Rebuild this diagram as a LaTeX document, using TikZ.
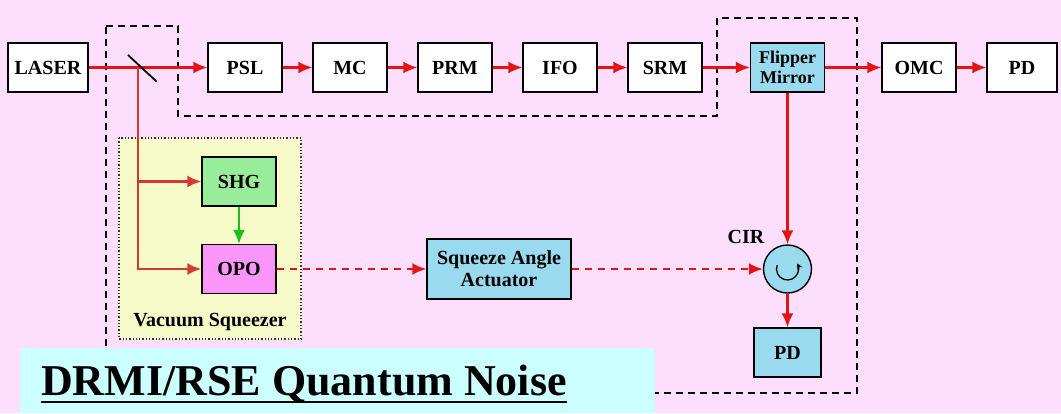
\documentclass[tikz,border=0pt]{standalone}
\usepackage{fontspec}
\setmainfont{Liberation Serif}
\usetikzlibrary{shapes.geometric,arrows.meta,positioning,calc}
\definecolor{bgpink}{RGB}{253,222,253}
\definecolor{boxblue}{RGB}{153,218,238}
\definecolor{shggreen}{RGB}{153,236,153}
\definecolor{opopink}{RGB}{250,150,250}
\definecolor{sqyellow}{RGB}{245,250,200}
\definecolor{titlecyan}{RGB}{204,255,255}
\definecolor{beamred}{RGB}{228,20,20}
\definecolor{branchred}{RGB}{210,60,45}
\definecolor{pumpgreen}{RGB}{30,190,30}

\begin{document}
\begin{tikzpicture}[x=1pt, y=-1pt, node distance=29.6pt, every node/.style={font=\fontsize{20}{22}\selectfont\bfseries}, align=center]
  \tikzset{block/.style={rectangle, draw=black, line width=1.4pt, minimum width=74pt, minimum height=49pt, inner sep=2pt, fill=white}, arr/.style={-{Latex[length=14pt,width=12pt]}, line width=2.2pt, draw=beamred}, enc/.style={line width=2.4pt, dash pattern=on 7pt off 5pt}, sqz/.style={arr, dash pattern=on 7pt off 6pt}}
  \fill[bgpink] (0,0) rectangle (1061,413);
  \useasboundingbox (0,0) rectangle (1061,413);
  % squeezer area
  \filldraw[fill=sqyellow, draw=black!80, dotted, line width=1.3pt] (119,138) rectangle (301,339);
  \node (vslabel) at (210,322) {Vacuum Squeezer};
  % dashed enclosure
  \draw[enc] (106,26) -- (178,26) -- (178,116) -- (717,116) -- (717,18) -- (857,18) -- (857,393) -- (106,393) -- cycle;
  % main row
  \node[block, minimum width=80pt] (laser) at (48,67.5) {LASER};
  \node[block] (psl) at (245,67.5) {PSL};
  \node[block, right=of psl] (mc) {MC};
  \node[block, right=of mc] (prm) {PRM};
  \node[block, right=of prm] (ifo) {IFO};
  \node[block, right=of ifo] (srm) {SRM};
  \node[block, fill=boxblue, font=\fontsize{18}{20}\selectfont\bfseries] (flip) at (787.5,67.5) {Flipper\\Mirror};
  \node[block] (omc) at (919,67.5) {OMC};
  \node[block, minimum width=70pt] (pd) at (1022,67.5) {PD};
  % squeezer
  \node[block, fill=shggreen] (shg) at (239,181.5) {SHG};
  \node[block, fill=opopink] (opo) at (239,269) {OPO};
  \node[block, fill=boxblue, minimum width=144pt, minimum height=60pt] (act) at (499,269) {Squeeze Angle\\Actuator};
  \node[circle, draw=black, fill=boxblue, line width=1.4pt, minimum size=48pt] (cir) at (787.5,269) {};
  \node (cirlabel) at (746,237) {CIR};
  \node[block, fill=boxblue, minimum width=67pt] (pdcir) at (787.5,352.5) {PD};
  \draw[line width=1.3pt, -{Stealth[length=6pt,width=6pt]}] ($(cir)+(200:11)$) arc[start angle=200, end angle=-30, radius=11];
  % beam splitter
  \coordinate (bs) at (138,67.5);
  \draw[arr] (laser) -- (psl);
  \draw[line width=1.8pt] ($(bs)+(-10,-12.5)$) -- ($(bs)+(18.5,14)$);
  \draw[arr] (psl) -- (mc);
  \draw[arr] (mc) -- (prm);
  \draw[arr] (prm) -- (ifo);
  \draw[arr] (ifo) -- (srm);
  \draw[arr] (srm) -- (flip);
  \draw[arr] (flip) -- (omc);
  \draw[arr] (omc) -- (pd);
  \draw[arr] (flip) -- (cir);
  \draw[arr] (cir) -- (pdcir);
  \draw[arr, draw=branchred] (bs) |- (shg);
  \draw[arr, draw=branchred] (bs) |- (opo);
  \draw[arr, draw=pumpgreen, line width=1.6pt] (shg) -- (opo);
  \draw[sqz] (opo) -- (act);
  \draw[sqz] (act) -- (cir);
  % title
  \fill[titlecyan] (20,348) rectangle (655,413);
  \node[anchor=base west, inner sep=0pt, font=\fontsize{44}{48}\selectfont\bfseries] (title) at (41,395) {DRMI/RSE Quantum Noise};
  \draw[line width=2.4pt] ($(title.base west)+(0,7)$) -- ($(title.base east)+(0,7)$);
\end{tikzpicture}
\end{document}
